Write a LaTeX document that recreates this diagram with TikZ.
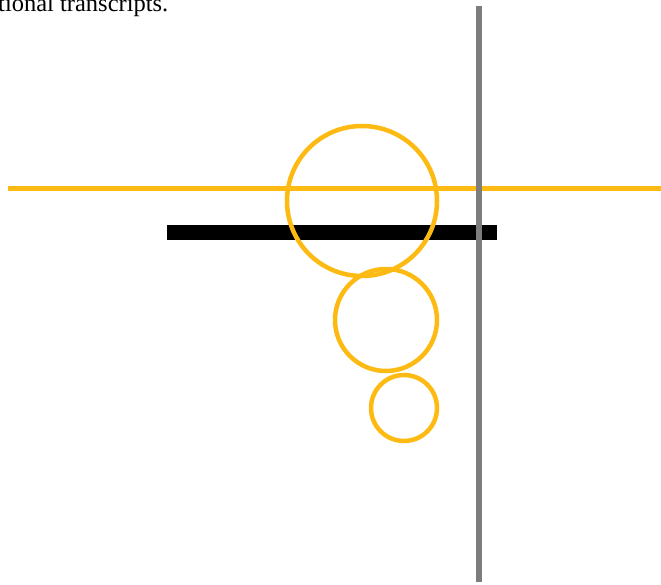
\documentclass[tikz,border=0pt]{standalone}
\usepackage{fontspec}
\setmainfont{Liberation Serif}
\definecolor{gold}{RGB}{252,186,18}
\definecolor{midgray}{RGB}{125,125,125}
\begin{document}
\begin{tikzpicture}[x=1pt,y=-1pt,
  ring/.style={draw=gold,line width=4.5pt},
  goldline/.style={draw=gold,line width=5pt},
  blackbar/.style={draw=black,line width=15pt},
  grayline/.style={draw=midgray,line width=5.5pt}]
\useasboundingbox (0,0) rectangle (661,585);
\node[anchor=base west,inner sep=0pt,font=\fontsize{24.5}{28}\selectfont] (txt) at (-2,12) {tional transcripts.};
\draw[blackbar] (167,233) -- (497,233);
\draw[goldline] (8,189) -- (661,189);
\draw[ring] (362,201) circle (75);
\draw[ring] (386,320) circle (51);
\draw[ring] (404,408) circle (33);
\draw[grayline] (479,6) -- (479,582);
\end{tikzpicture}
\end{document}
